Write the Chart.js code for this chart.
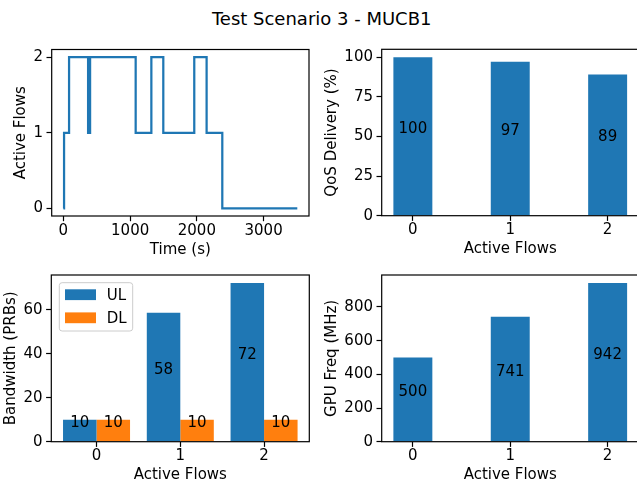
<!DOCTYPE html>
<html>
<head>
<meta charset="utf-8">
<script src="https://cdn.jsdelivr.net/npm/chart.js@4"></script>
<style>
  html, body { margin: 0; padding: 0; background: #fff; }
  body { width: 637px; height: 485px; overflow: hidden; position: relative; font-family: 'DejaVu Sans', sans-serif; }
  #title { position: absolute; left: 321.7px; top: 8.8px; transform: translateX(-50%); font-size: 18px; line-height: 20px; white-space: nowrap; color: #000; }
  canvas { position: absolute; }
</style>
</head>
<body>
<div id="title">Test Scenario 3 - MUCB1</div>
<canvas id="flowsTime"></canvas>
<canvas id="qos"></canvas>
<canvas id="bandwidth"></canvas>
<canvas id="gpu"></canvas>
<script>
// Data
const timeSec = [0, 10, 85, 370, 400, 1083, 1318, 1497, 1961, 2146, 2381, 3505];
const activeFlows = [0, 1, 2, 1, 2, 1, 2, 1, 2, 1, 0, 0];
const flowLevels = [0, 1, 2];
const qosDelivery = [100, 97.2, 89.1];
const bandwidthUL = [10, 58.7, 72.3];
const bandwidthDL = [10, 10, 10];
const gpuFreq = [500, 741.3, 942.4];

const timeTicks = [0, 1000, 2000, 3000];
const flowTicks = [0, 1, 2];
const qosTicks = [0, 25, 50, 75, 100];
const bandwidthTicks = [0, 20, 40, 60];
const gpuTicks = [0, 200, 400, 600, 800];

const C0 = '#1f77b4';
const C1 = '#ff7f0e';
const FONT = { family: 'DejaVu Sans', size: 15 };
const LH = FONT.size * 1.2;

// matplotlib-style 5% margins
function margins(lo, hi) {
  const m = (hi - lo) * 0.05;
  return [lo - m, hi + m];
}

function axis(g, which, title, range, ticks) {
  const opts = {
    type: 'linear',
    bounds: 'data',
    min: range[0],
    max: range[1],
    offset: false,
    afterBuildTicks: s => { s.ticks = ticks.map(v => ({ value: v })); },
    grid: { display: true, drawOnChartArea: false, drawTicks: true, tickLength: 5.2, tickWidth: 1.2, tickColor: '#000', offset: false },
    border: { display: false },
    ticks: { color: '#000', font: FONT, maxRotation: 0, autoSkip: false, callback: v => String(v) },
    title: { display: true, text: title, color: '#000', font: FONT }
  };
  if (which === 'x') {
    opts.afterFit = s => { s.height = g.top + g.h - g.area[3]; };
    opts.ticks.padding = 0.5;
    opts.title.padding = { top: 0, bottom: g.top + g.h - g.xTitle - LH / 2 };
  } else {
    opts.afterFit = s => { s.width = g.area[0] - g.left; };
    opts.ticks.padding = 3.5;
    opts.title.padding = { top: g.yTitle - g.left - LH / 2, bottom: 0 };
  }
  return opts;
}

const frame = {
  id: 'frame',
  afterDatasetsDraw(chart) {
    const { ctx, chartArea: a } = chart;
    ctx.save();
    ctx.strokeStyle = '#000';
    ctx.lineWidth = 1.2;
    ctx.strokeRect(a.left, a.top, a.right - a.left, a.bottom - a.top);
    ctx.restore();
  }
};

// value text at half bar height, like ax.text(x, h/2, int(h), va='bottom')
const barLabels = {
  id: 'barLabels',
  afterDraw(chart) {
    const { ctx } = chart;
    const yScale = chart.scales.y;
    ctx.save();
    ctx.font = FONT.size + 'px "DejaVu Sans"';
    ctx.fillStyle = '#000';
    ctx.textAlign = 'center';
    ctx.textBaseline = 'bottom';
    chart.data.datasets.forEach((ds, i) => {
      chart.getDatasetMeta(i).data.forEach((bar, j) => {
        const v = ds.data[j].y;
        ctx.fillText(String(Math.floor(v)), bar.x, yScale.getPixelForValue(v / 2));
      });
    });
    ctx.restore();
  }
};

const boxLegend = {
  id: 'boxLegend',
  afterDraw(chart) {
    const { ctx, chartArea: a } = chart;
    const x0 = a.left + 8;
    const y0 = a.top + 7.7;
    ctx.save();
    ctx.fillStyle = 'rgba(255,255,255,0.8)';
    ctx.strokeStyle = '#cccccc';
    ctx.lineWidth = 1;
    ctx.beginPath();
    ctx.roundRect(x0, y0, 73.4, 48.3, 2.8);
    ctx.fill();
    ctx.stroke();
    ctx.font = FONT.size + 'px "DejaVu Sans"';
    ctx.textAlign = 'left';
    ctx.textBaseline = 'middle';
    chart.data.datasets.forEach((ds, i) => {
      const cy = y0 + 12 + i * 23.1;
      ctx.fillStyle = ds.backgroundColor;
      ctx.fillRect(x0 + 5.7, cy - 5.4, 31, 10.8);
      ctx.fillStyle = '#000';
      ctx.fillText(ds.label, x0 + 47.4, cy + 1);
    });
    ctx.restore();
  }
};

function makeChart(id, g, type, datasets, xAxis, yAxis, plugins) {
  const canvas = document.getElementById(id);
  canvas.width = g.w;
  canvas.height = g.h;
  canvas.style.left = g.left + 'px';
  canvas.style.top = g.top + 'px';
  return new Chart(canvas, {
    type,
    data: { datasets },
    options: {
      responsive: false,
      animation: false,
      events: [],
      layout: { padding: { left: 0, top: g.area[1] - g.top, right: g.left + g.w - g.area[2], bottom: 0 } },
      plugins: { legend: { display: false }, tooltip: { enabled: false } },
      scales: { x: xAxis, y: yAxis }
    },
    plugins
  });
}

function points(xs, ys) {
  return xs.map((x, i) => ({ x, y: ys[i] }));
}

// Active flows over time
const gTL = { left: 0, top: 30, w: 320, h: 230, area: [51.7, 49.5, 309, 216], xTitle: 249.7, yTitle: 20.8 };
makeChart('flowsTime', gTL, 'line', [{
  data: points(timeSec, activeFlows),
  borderColor: C0,
  borderWidth: 2.25,
  pointRadius: 0,
  stepped: true,
  fill: false
}],
  axis(gTL, 'x', 'Time (s)', margins(timeSec[0], timeSec[timeSec.length - 1]), timeTicks),
  axis(gTL, 'y', 'Active Flows', margins(0, 2), flowTicks),
  [frame]);

// QoS delivery
const gTR = { left: 320, top: 30, w: 320, h: 230, area: [381.7, 49.3, 638.8, 215.7], xTitle: 249.5, yTitle: 332 };
makeChart('qos', gTR, 'bar', [{
  data: points(flowLevels, qosDelivery),
  backgroundColor: C0,
  borderWidth: 0,
  categoryPercentage: 1,
  barPercentage: 0.4
}],
  axis(gTR, 'x', 'Active Flows', margins(-0.2, 2.2), flowTicks),
  axis(gTR, 'y', 'QoS Delivery (%)', [0, Math.max(...qosDelivery) * 1.05], qosTicks),
  [frame, barLabels]);

// Bandwidth UL / DL
const gBL = { left: 0, top: 260, w: 320, h: 225, area: [51.3, 275, 309.3, 441.7], xTitle: 475, yTitle: 10.8 };
makeChart('bandwidth', gBL, 'bar', [
  { label: 'UL', data: points(flowLevels, bandwidthUL), backgroundColor: C0, borderWidth: 0, categoryPercentage: 0.8, barPercentage: 1 },
  { label: 'DL', data: points(flowLevels, bandwidthDL), backgroundColor: C1, borderWidth: 0, categoryPercentage: 0.8, barPercentage: 1 }
],
  axis(gBL, 'x', 'Active Flows', margins(-0.4, 2.4), flowTicks),
  axis(gBL, 'y', 'Bandwidth (PRBs)', [0, Math.max(...bandwidthUL, ...bandwidthDL) * 1.05], bandwidthTicks),
  [frame, barLabels, boxLegend]);

// GPU frequency
const gBR = { left: 320, top: 260, w: 320, h: 225, area: [381.7, 275, 638.8, 441.7], xTitle: 475, yTitle: 332.5 };
makeChart('gpu', gBR, 'bar', [{
  data: points(flowLevels, gpuFreq),
  backgroundColor: C0,
  borderWidth: 0,
  categoryPercentage: 1,
  barPercentage: 0.4
}],
  axis(gBR, 'x', 'Active Flows', margins(-0.2, 2.2), flowTicks),
  axis(gBR, 'y', 'GPU Freq (MHz)', [0, Math.max(...gpuFreq) * 1.05], gpuTicks),
  [frame, barLabels]);
</script>
</body>
</html>
